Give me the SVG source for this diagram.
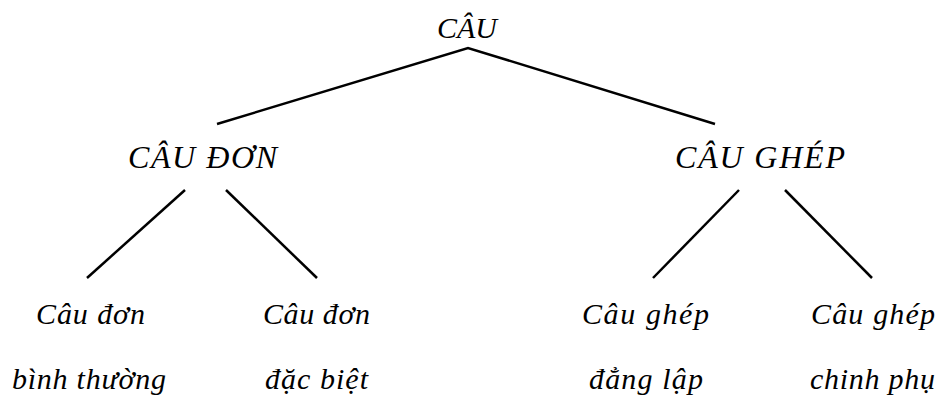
<svg xmlns="http://www.w3.org/2000/svg" width="942" height="398" viewBox="0 0 942 398">
<style>
text{font-family:"Liberation Serif","Times New Roman",serif;font-style:italic;font-size:30px;fill:#000}
.h{font-size:32px}
.e{stroke:#000;stroke-width:2.5;fill:none;stroke-linecap:butt}
</style>
<rect width="942" height="398" fill="#fff"/>
<g id="connectors">
<polyline class="e" points="217,124 468,48 715,124"/>
<line class="e" x1="185" y1="190" x2="87" y2="278"/>
<line class="e" x1="226" y1="190" x2="317" y2="278"/>
<line class="e" x1="739" y1="190" x2="653" y2="278"/>
<line class="e" x1="785" y1="190" x2="872" y2="278"/>
</g>
<g id="root"><text x="437" y="38" textLength="60" lengthAdjust="spacing">CÂU</text></g>
<g id="cau-don"><text class="h" x="128" y="168" textLength="149" lengthAdjust="spacing">CÂU ĐƠN</text></g>
<g id="cau-ghep"><text class="h" x="675" y="168" textLength="170" lengthAdjust="spacing">CÂU GHÉP</text></g>
<g id="don-binh-thuong"><text x="36" y="324" textLength="109" lengthAdjust="spacing">Câu đơn</text><text x="12" y="389" textLength="154" lengthAdjust="spacing">bình thường</text></g>
<g id="don-dac-biet"><text x="263" y="324" textLength="107" lengthAdjust="spacing">Câu đơn</text><text x="265" y="389" textLength="103" lengthAdjust="spacing">đặc biệt</text></g>
<g id="ghep-dang-lap"><text x="582" y="324" textLength="127" lengthAdjust="spacing">Câu ghép</text><text x="589" y="389" textLength="114" lengthAdjust="spacing">đẳng lập</text></g>
<g id="ghep-chinh-phu"><text x="811" y="324" textLength="124" lengthAdjust="spacing">Câu ghép</text><text x="810" y="389" textLength="125" lengthAdjust="spacing">chinh phụ</text></g>
</svg>
